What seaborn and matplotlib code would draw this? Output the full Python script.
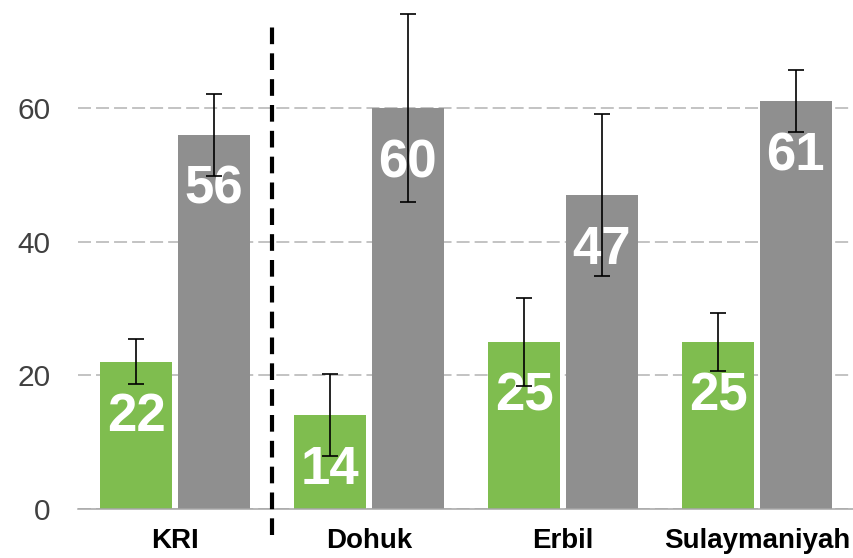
import pandas as pd
import matplotlib.pyplot as plt
import seaborn as sns

regions = ["KRI", "Dohuk", "Erbil", "Sulaymaniyah"]
series = ["Green", "Grey"]
green_values = [22, 14, 25, 25]
grey_values = [56, 60, 47, 61]
green_low = [18.7, 7.9, 18.4, 20.7]
green_high = [25.4, 20.2, 31.6, 29.3]
grey_low = [49.8, 46.0, 34.9, 56.4]
grey_high = [62.1, 74.1, 59.1, 65.7]
y_ticks = [0, 20, 40, 60]

sns.set_style("white")
plt.rcParams["font.family"] = ["Liberation Sans", "DejaVu Sans"]

df = pd.DataFrame({
    "region": regions * 2,
    "series": [series[0]] * 4 + [series[1]] * 4,
    "value": green_values + grey_values,
})

fig = plt.figure(figsize=(8.54, 5.58), dpi=100)
ax = fig.add_axes([78 / 854, 49 / 558, 776 / 854, 501.2 / 558])

sns.barplot(
    data=df, x="region", y="value", hue="series", order=regions,
    hue_order=series, palette=["#7fbd4f", "#8f8f8f"], saturation=1,
    width=0.8, gap=0.072, linewidth=0, errorbar=None, legend=False,
    ax=ax, zorder=2,
)

lows = [green_low, grey_low]
highs = [green_high, grey_high]
for container, lo, hi in zip(ax.containers, lows, highs):
    for bar, l, h in zip(container, lo, hi):
        x = bar.get_x() + bar.get_width() / 2
        top = bar.get_height()
        ax.annotate(
            f"{top:.0f}", (x, top), xytext=(0, -69), textcoords="offset pixels",
            ha="center", va="baseline", color="white", fontsize=38,
            fontweight="bold", zorder=3,
        )
        eb = ax.errorbar(
            x, top, yerr=[[top - l], [h - top]], fmt="none", ecolor="black",
            elinewidth=1.2, capsize=6, capthick=1.2, zorder=4,
        )
        for art in eb.get_children():
            art.set_clip_on(False)

ax.set_ylim(0, 75)
ax.set_xlim(-0.5, 3.5)
ax.set_yticks(y_ticks)
ax.yaxis.grid(True, color="#b3b3b3", linewidth=1.1, linestyle=(0, (8.5, 3.3)), zorder=0)
ax.set_axisbelow(True)
ax.tick_params(axis="y", length=0, pad=20, labelsize=21.5, labelcolor="#404040")
ax.tick_params(axis="x", which="major", length=0, pad=14)
ax.set_xticks([-0.5, 0.5, 1.5, 2.5, 3.5], minor=True)
ax.tick_params(axis="x", which="minor", length=5, width=1.1, color="#a6a6a6", direction="out")
for lab in ax.get_xticklabels():
    lab.set_fontsize(20)
    lab.set_fontweight("bold")
    lab.set_color("black")
ax.set_xlabel("")
ax.set_ylabel("")

sns.despine(ax=ax, left=True)
ax.spines["bottom"].set_color("#a6a6a6")
ax.spines["bottom"].set_linewidth(1.1)

ax.axvline(0.5, ymin=-0.052, ymax=0.97, color="black", linewidth=3,
           linestyle=(0, (4, 2.2)), clip_on=False, zorder=5)

fig.savefig("out.png", dpi=100)
